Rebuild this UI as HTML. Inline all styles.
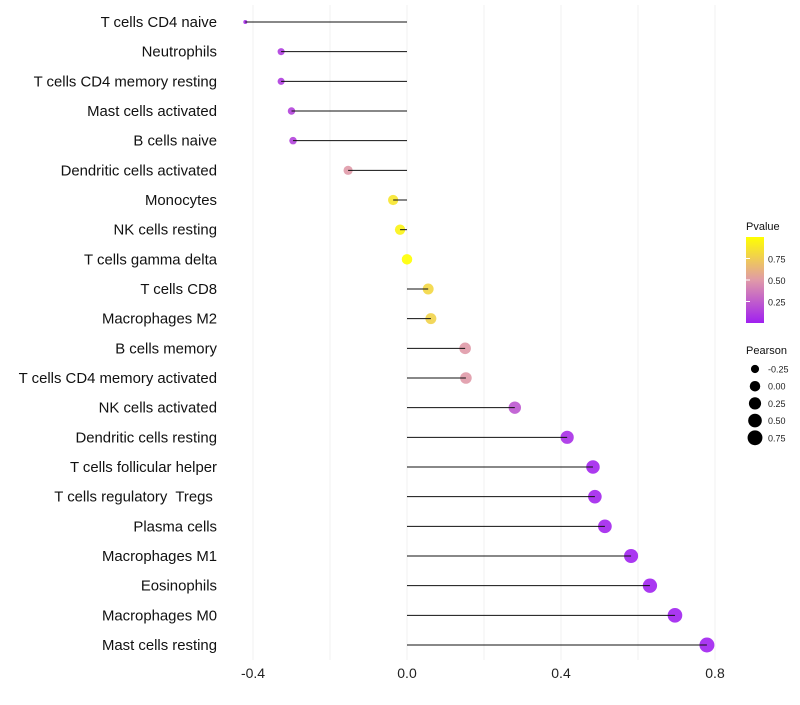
<!DOCTYPE html>
<html><head><meta charset="utf-8"><style>
body{margin:0;background:#fff;font-family:"Liberation Sans",sans-serif}
svg text{font-family:"Liberation Sans",sans-serif}
</style></head><body>
<svg id="c" width="800" height="700">
<defs><linearGradient id="pg" x1="0" y1="1" x2="0" y2="0">
<stop offset="0" stop-color="#a020f0"/><stop offset="0.5" stop-color="#e09aa8"/><stop offset="1" stop-color="#ffff00"/>
</linearGradient></defs>
</svg>
<script>
const categories=["T cells CD4 naive","Neutrophils","T cells CD4 memory resting","Mast cells activated","B cells naive","Dendritic cells activated","Monocytes","NK cells resting","T cells gamma delta","T cells CD8","Macrophages M2","B cells memory","T cells CD4 memory activated","NK cells activated","Dendritic cells resting","T cells follicular helper","T cells regulatory  Tregs ","Plasma cells","Macrophages M1","Eosinophils","Macrophages M0","Mast cells resting"];
const pearson=[-0.42,-0.327,-0.327,-0.30,-0.296,-0.153,-0.036,-0.018,0.0,0.055,0.062,0.151,0.153,0.28,0.416,0.483,0.488,0.514,0.582,0.631,0.696,0.779];
const pvalue=[0.05,0.12,0.12,0.14,0.14,0.5,0.87,0.94,1.0,0.8,0.78,0.5,0.5,0.22,0.06,0.02,0.02,0.02,0.01,0.01,0.01,0.01];
const xTicks=[-0.4,0.0,0.4,0.8];
const xTickLabels=["-0.4","0.0","0.4","0.8"];
const pTicks=[0.25,0.5,0.75];
const sizeLegend=[-0.25,0,0.25,0.5,0.75];
const NS="http://www.w3.org/2000/svg",svg=document.getElementById("c");
const xs=v=>407+v*385;
const ys=i=>22+i*(623/21);
const rs=v=>{const t=Math.max(0,(v+0.42)/1.2);return 2+5.5*Math.sqrt(t);};
function lerp(a,b,t){return a.map((x,i)=>Math.round(x+(b[i]-x)*t));}
function col(p){const A=[160,32,240],M=[224,154,168],B=[255,255,0];const c=p<0.5?lerp(A,M,p/0.5):lerp(M,B,(p-0.5)/0.5);return `rgb(${c})`;}
function mk(t,a,p){const e=document.createElementNS(NS,t);for(const k in a)e.setAttribute(k,a[k]);(p||svg).appendChild(e);return e;}
for(let v=-0.4;v<=0.81;v+=0.2){const g=mk("line",{x1:xs(v),x2:xs(v),y1:5,y2:660,stroke:"#f0f0f0","stroke-width":1});

}
xTicks.forEach((v,i)=>{const t=mk("text",{x:xs(v),y:678,"text-anchor":"middle","font-size":14,fill:"#222"});t.textContent=xTickLabels[i];

});
categories.forEach((c,i)=>{
const y=ys(i);
const t=mk("text",{x:217,y:y+5,"text-anchor":"end","font-size":14.9,fill:"#111","xml:space":"preserve"});t.style.whiteSpace="pre";t.textContent=c;


const d=mk("circle",{cx:xs(pearson[i]),cy:y,r:rs(pearson[i]),fill:col(pvalue[i]),"fill-opacity":0.9});


const l=mk("line",{x1:xs(0),x2:xs(pearson[i]),y1:y,y2:y,stroke:"#111","stroke-width":1});


});
const lt=mk("text",{x:746,y:230,"font-size":11,fill:"#111"});lt.textContent="Pvalue";


const bar=mk("rect",{x:746,y:237,width:18,height:86,fill:"url(#pg)"});


const py=p=>323-p*86;
pTicks.forEach(p=>{const t=mk("text",{x:768,y:py(p)+4,"font-size":9,fill:"#222"});t.textContent=p.toFixed(2);


const tk=mk("line",{x1:746,x2:750,y1:py(p),y2:py(p),stroke:"#fff"});});
const st=mk("text",{x:746,y:354,"font-size":11,fill:"#111"});st.textContent="Pearson";


sizeLegend.forEach((v,i)=>{const y=369+i*17.2;
const c=mk("circle",{cx:755,cy:y,r:rs(v),fill:"#000"});


const t=mk("text",{x:768,y:y+3.5,"font-size":9,fill:"#222"});t.textContent=v.toFixed(2);

});
</script>
</body></html>
